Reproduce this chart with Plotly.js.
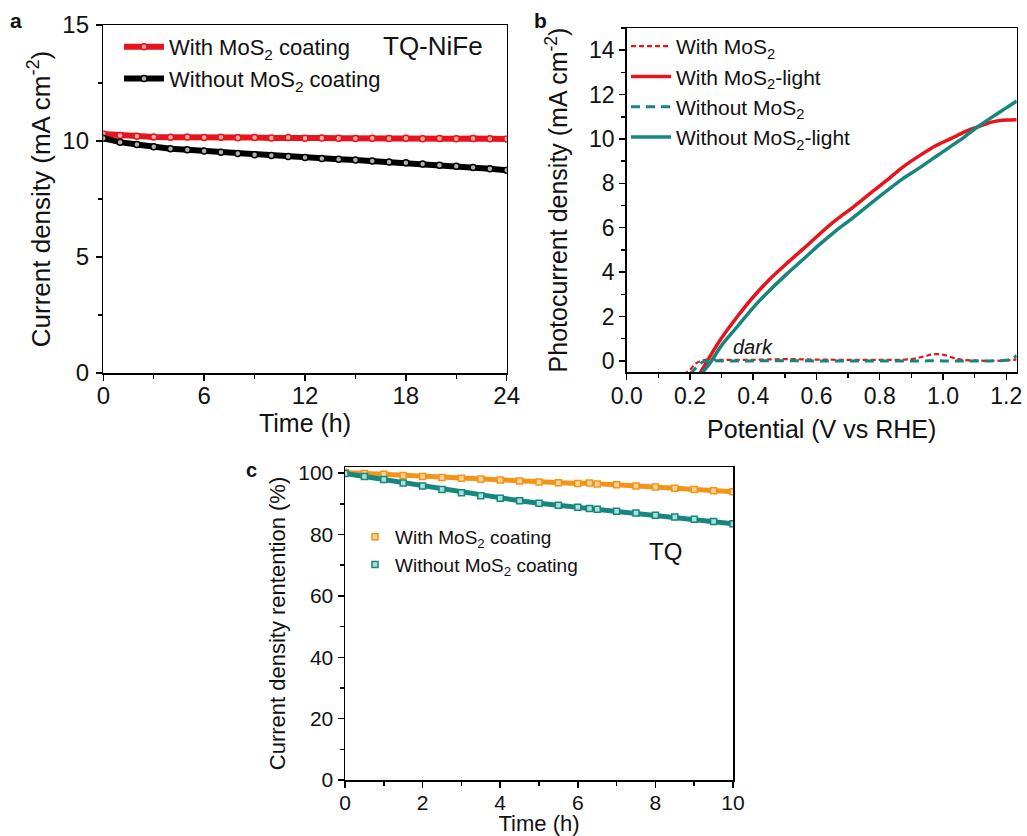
<!DOCTYPE html>
<html>
<head>
<meta charset="utf-8">
<script src="https://cdn.plot.ly/plotly-3.0.1.min.js"></script>
<style>html,body{margin:0;padding:0;background:#fff}#chart{width:1027px;height:836px}</style>
</head>
<body>
<div id="chart"></div>
<script>
// Panel a: stability at 10 mA cm-2 (TQ-NiFe)
const timeA = [0,1,2,3,4,5,6,7,8,9,10,11,12,13,14,15,16,17,18,19,20,21,22,23,24];
const withMoS2A = [10.30,10.24,10.20,10.17,10.16,10.17,10.15,10.16,10.14,10.15,10.13,10.15,10.12,10.13,10.12,10.11,10.12,10.11,10.12,10.10,10.11,10.10,10.11,10.10,10.09];
const withoutMoS2A = [10.12,9.95,9.85,9.75,9.67,9.62,9.57,9.51,9.46,9.41,9.37,9.33,9.29,9.25,9.21,9.18,9.14,9.10,9.06,9.01,8.96,8.91,8.86,8.80,8.74];

// Panel b: LSV curves
const potLight = [0.231,0.255,0.295,0.35,0.40,0.45,0.505,0.56,0.611,0.66,0.716,0.77,0.822,0.87,0.927,0.98,1.03,1.065,1.10,1.13,1.16,1.20,1.233];
const withLight = [-0.57,0.0,0.93,2.0,2.88,3.65,4.38,5.07,5.73,6.33,6.93,7.55,8.13,8.70,9.26,9.72,10.05,10.30,10.50,10.65,10.78,10.85,10.87];
const potLight2 = [0.237,0.268,0.30,0.35,0.40,0.45,0.505,0.56,0.611,0.66,0.716,0.77,0.822,0.87,0.927,0.98,1.03,1.065,1.10,1.13,1.16,1.20,1.233];
const withoutLight = [-0.57,0.0,0.70,1.55,2.40,3.15,3.90,4.60,5.26,5.85,6.46,7.08,7.66,8.18,8.71,9.23,9.72,10.06,10.45,10.74,11.03,11.40,11.71];
const potDark = [0.18,0.20,0.22,0.25,0.30,0.40,0.50,0.60,0.70,0.80,0.90,0.94,0.97,1.00,1.03,1.06,1.10,1.15,1.20,1.233];
const withDark = [-0.60,-0.40,-0.10,0.05,0.05,0.05,0.08,0.06,0.05,0.05,0.08,0.20,0.30,0.28,0.15,0.05,0.02,0.00,0.02,0.06];
const potDark2 = [0.20,0.22,0.24,0.26,0.30,0.40,0.50,0.60,0.70,0.80,0.90,0.94,0.97,1.00,1.03,1.06,1.10,1.15,1.20,1.22,1.233];
const withoutDark = [-0.60,-0.30,-0.05,0.00,0.00,0.00,0.01,0.00,0.00,0.00,0.00,0.00,0.01,0.00,0.00,0.00,0.00,0.00,0.03,0.10,0.25];

// Panel c: current density retention (TQ)
const timeC = [0,0.5,1,1.5,2,2.5,3,3.5,4,4.5,5,5.5,6,6.3,6.5,7,7.5,8,8.5,9,9.5,10];
const withMoS2C = [100.2,99.9,99.6,99.2,98.9,98.6,98.3,98.1,97.8,97.4,97.1,96.9,96.6,96.8,96.5,96.2,95.8,95.5,95.1,94.7,94.3,93.9];
const withoutMoS2C = [99.9,98.9,97.9,96.8,95.8,94.7,93.6,92.6,91.8,91.0,90.2,89.5,88.9,88.5,88.2,87.6,87.0,86.3,85.7,85.0,84.2,83.5];

const FONT = 'Arial, "Liberation Sans", sans-serif';
const RED = '#e8141c', BLACK = '#000000', TEAL = '#16877f', ORANGE = '#f39417';

const traces = [
  {x: timeA, y: withMoS2A, name: 'With MoS<sub>2</sub> coating', mode: 'lines+markers',
   line: {color: RED, width: 6}, marker: {symbol: 'circle', size: 6, color: '#f7a8a8', line: {color: RED, width: 1.5}},
   xaxis: 'x', yaxis: 'y', legend: 'legend'},
  {x: timeA, y: withoutMoS2A, name: 'Without MoS<sub>2</sub> coating', mode: 'lines+markers',
   line: {color: BLACK, width: 6}, marker: {symbol: 'circle', size: 6, color: '#b0b0b0', line: {color: BLACK, width: 1.5}},
   xaxis: 'x', yaxis: 'y', legend: 'legend'},

  {x: potDark, y: withDark, name: 'With MoS<sub>2</sub>', mode: 'lines', line: {color: RED, width: 2.2, dash: '5px,3px', shape: 'spline'},
   xaxis: 'x2', yaxis: 'y2', legend: 'legend2'},
  {x: potLight, y: withLight, name: 'With MoS<sub>2</sub>-light', mode: 'lines', line: {color: RED, width: 3.5, shape: 'spline'},
   xaxis: 'x2', yaxis: 'y2', legend: 'legend2'},
  {x: potDark2, y: withoutDark, name: 'Without MoS<sub>2</sub>', mode: 'lines', line: {color: TEAL, width: 3, dash: '9px,6px', shape: 'spline'},
   xaxis: 'x2', yaxis: 'y2', legend: 'legend2'},
  {x: potLight2, y: withoutLight, name: 'Without MoS<sub>2</sub>-light', mode: 'lines', line: {color: TEAL, width: 3.5, shape: 'spline'},
   xaxis: 'x2', yaxis: 'y2', legend: 'legend2'},

  {x: timeC, y: withMoS2C, name: 'With MoS<sub>2</sub> coating', mode: 'lines', line: {color: ORANGE, width: 5},
   xaxis: 'x3', yaxis: 'y3', legend: 'legend3', showlegend: false},
  {x: timeC, y: withoutMoS2C, name: 'Without MoS<sub>2</sub> coating', mode: 'lines', line: {color: TEAL, width: 5},
   xaxis: 'x3', yaxis: 'y3', legend: 'legend3', showlegend: false},
  {x: timeC, y: withMoS2C, name: 'With MoS<sub>2</sub> coating', mode: 'markers',
   marker: {symbol: 'square', size: 6, color: '#fbd49a', line: {color: ORANGE, width: 1.5}},
   xaxis: 'x3', yaxis: 'y3', legend: 'legend3'},
  {x: timeC, y: withoutMoS2C, name: 'Without MoS<sub>2</sub> coating', mode: 'markers',
   marker: {symbol: 'square', size: 6, color: '#a8e0dc', line: {color: TEAL, width: 1.5}},
   xaxis: 'x3', yaxis: 'y3', legend: 'legend3'}
];

function ax(tickSize, titleSize, opts) {
  return Object.assign({
    showline: true, linecolor: '#000', linewidth: 1.5, mirror: true,
    ticks: 'outside', ticklen: 6, tickwidth: 1.5, tickcolor: '#000',
    showgrid: false, zeroline: false, automargin: false,
    tickfont: {family: FONT, size: tickSize, color: '#111'}
  }, opts, {title: Object.assign({font: {family: FONT, size: titleSize, color: '#111'}}, opts.title)});
}
const minorT = d => ({ticks: 'outside', ticklen: 4, tickwidth: 1.5, tickcolor: '#000', dtick: d, tick0: 0});

const W = 1027, H = 836;
const px = v => v / W, py = v => 1 - v / H;
const note = (text, x, y, size) => ({text: text, x: px(x), y: py(y), xref: 'paper', yref: 'paper',
  xanchor: 'center', yanchor: 'middle', showarrow: false, font: {family: FONT, size: size, color: '#111'}});

const layout = {
  width: W, height: H,
  margin: {l: 0, r: 0, t: 0, b: 0},
  paper_bgcolor: '#fff', plot_bgcolor: '#fff',
  font: {family: FONT, color: '#111'},
  xaxis: ax(24, 25, {domain: [px(103.3), px(506.7)], anchor: 'y', range: [0, 24], tickvals: [0,6,12,18,24],
    minor: minorT(3), ticklabelstandoff: -5,
    title: {text: 'Time (h)', standoff: 4}}),
  yaxis: ax(24, 26, {domain: [py(373), py(25)], anchor: 'x', range: [0, 15], tickvals: [0,5,10,15],
    minor: minorT(2.5), ticklabelstandoff: 2,
    title: {text: 'Current density (mA cm<sup>-2</sup>)', standoff: 4}}),
  xaxis2: ax(23, 25, {domain: [px(626.7), px(1016.7)], anchor: 'y2', range: [0, 1.233], tickvals: [0,0.2,0.4,0.6,0.8,1.0,1.2],
    ticktext: ['0.0','0.2','0.4','0.6','0.8','1.0','1.2'],
    minor: minorT(0.1), ticklabelstandoff: -3,
    title: {text: 'Potential (V vs RHE)', standoff: 12}}),
  yaxis2: ax(23, 25, {domain: [py(372), py(28)], anchor: 'x2', range: [-0.5, 15], tickvals: [0,2,4,6,8,10,12,14],
    minor: minorT(1), ticklabelstandoff: 0,
    title: {text: 'Photocurrent density (mA cm<sup>-2</sup>)', standoff: 14}}),
  xaxis3: ax(21, 22, {domain: [px(345), px(733)], anchor: 'y3', range: [0, 10], tickvals: [0,2,4,6,8,10],
    minor: minorT(1), ticklabelstandoff: -3,
    title: {text: 'Time (h)', standoff: 0}}),
  yaxis3: ax(21, 22, {domain: [py(780), py(467)], anchor: 'x3', range: [0, 102], tickvals: [0,20,40,60,80,100],
    minor: minorT(10), ticklabelstandoff: 0,
    title: {text: 'Current density rentention (%)', standoff: 6}}),

  legend: {x: px(119), y: py(26), xanchor: 'left', yanchor: 'top', bgcolor: 'rgba(0,0,0,0)',
    font: {family: FONT, size: 22, color: '#111'}, tracegroupgap: 0, itemwidth: 40},
  legend2: {x: px(626), y: py(26), xanchor: 'left', yanchor: 'top', bgcolor: 'rgba(0,0,0,0)',
    font: {family: FONT, size: 21, color: '#111'}, tracegroupgap: 0, itemwidth: 40},
  legend3: {x: px(355), y: py(518), xanchor: 'left', yanchor: 'top', bgcolor: 'rgba(0,0,0,0)',
    font: {family: FONT, size: 19, color: '#111'}, tracegroupgap: 0, itemwidth: 30},

  annotations: [
    note('<b>a</b>', 16, 20, 21),
    note('<b>b</b>', 540, 20, 21),
    note('<b>c</b>', 251, 470, 20),
    note('TQ-NiFe', 433, 46, 26),
    note('TQ', 665, 551, 24),
    note('<i>dark</i>', 753, 347, 20)
  ]
};

Plotly.newPlot('chart', traces, layout, {displayModeBar: false, staticPlot: true});
</script>
</body>
</html>
